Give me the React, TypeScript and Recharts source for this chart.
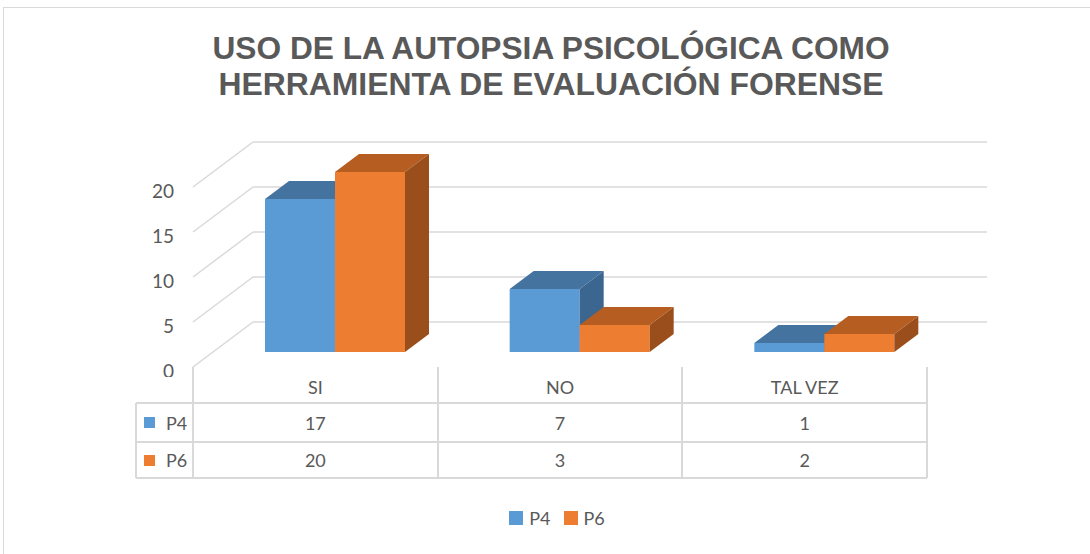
import React from "react";
import { BarChart, Bar, XAxis, YAxis, CartesianGrid } from "recharts";

const categories = ["SI", "NO", "TAL VEZ"];
const p4 = [17, 7, 1];
const p6 = [20, 3, 2];
const yTicks = [0, 5, 10, 15, 20];
const seriesNames = ["P4", "P6"];
const titleLines = ["USO DE LA AUTOPSIA PSICOLÓGICA COMO", "HERRAMIENTA DE EVALUACIÓN FORENSE"];

const data = categories.map((c, i) => ({ cat: c, P4: p4[i], P6: p6[i] }));

const W = 1090;
const H = 554;
const PLOT_L = 213;
const PLOT_R = 947;
const PLOT_T = 172;
const PLOT_B = 352;
const Y_W = 60;
// bar depth and the front / back planes of the fake 3d box
const DX = 24;
const DY = 18;
const FRONT = { dx: -20, dy: 15 };
const BACK = { dx: 40, dy: -30 };
const GRID = "#d9d9d9";
const TEXT = "#595959";
const FONT = "Lato, 'Open Sans', sans-serif";

const COLORS: Record<string, { front: string; top: string; side: string }> = {
  P4: { front: "#5b9bd5", top: "#45739f", side: "#3b6690" },
  P6: { front: "#ed7d31", top: "#b65e22", side: "#9a4e1c" },
};

function Box3D(props: any) {
  const { x, y, width: w, height: h, c } = props;
  if (w == null || h == null) return null;
  const top = `${x},${y} ${x + DX},${y - DY} ${x + w + DX},${y - DY} ${x + w},${y}`;
  const side = `${x + w},${y} ${x + w + DX},${y - DY} ${x + w + DX},${y + h - DY} ${x + w},${y + h}`;
  return (
    <g>
      <rect x={x} y={y} width={w} height={h} fill={c.front} />
      <polygon points={top} fill={c.top} />
      <polygon points={side} fill={c.side} />
    </g>
  );
}

const gridLine = (p: any) => {
  const { x1, y1, x2 } = p;
  return (
    <g key={p.key ?? `g-${y1}`}>
      <line x1={x1 + FRONT.dx} y1={y1 + FRONT.dy} x2={x1 + BACK.dx} y2={y1 + BACK.dy} stroke={GRID} strokeWidth={1.5} />
      <line x1={x1 + BACK.dx} y1={y1 + BACK.dy} x2={x2 + BACK.dx} y2={y1 + BACK.dy} stroke={GRID} strokeWidth={1.5} />
    </g>
  );
};

const YTick = (p: any) => (
  <text
    x={PLOT_L + FRONT.dx - 19}
    y={p.y + FRONT.dy + 3}
    textAnchor="end"
    dominantBaseline="central"
    fill={TEXT}
    fontSize={19}
    fontFamily={FONT}
  >
    {p.payload.value}
  </text>
);

function DataTable() {
  const left = 136;
  const x0 = PLOT_L + FRONT.dx;
  const colW = (PLOT_R - PLOT_L) / categories.length;
  const rows = [367, 403, 442, 478];
  const right = x0 + colW * categories.length;
  const line = (s: React.CSSProperties, k: string) => (
    <div key={k} style={{ position: "absolute", background: GRID, ...s }} />
  );
  const cell = (x: number, y: number, w: number, h: number, txt: React.ReactNode, k: string) => (
    <div
      key={k}
      style={{
        position: "absolute",
        left: x,
        top: y,
        width: w,
        height: h,
        display: "flex",
        alignItems: "center",
        justifyContent: "center",
        color: TEXT,
        fontSize: 18,
        fontFamily: FONT,
      }}
    >
      {txt}
    </div>
  );
  const series = [
    { name: "P4", vals: p4 },
    { name: "P6", vals: p6 },
  ];
  const els: React.ReactNode[] = [];
  // the header row hides the lower half of the "0" tick
  els.push(<div key="mask" style={{ position: "absolute", left: left, top: 377, width: x0 - left - 2, height: 25, background: "#fff" }} />);
  categories.forEach((c, i) => els.push(cell(x0 + i * colW, rows[0] + 2, colW, rows[1] - rows[0], c, `h${i}`)));
  series.forEach((s, r) => {
    const y = rows[r + 1];
    const h = rows[r + 2] - y;
    els.push(
      <div
        key={`lab${r}`}
        style={{ position: "absolute", left: left + 8, top: y, height: h, display: "flex", alignItems: "center", color: TEXT, fontSize: 18, fontFamily: FONT }}
      >
        <span style={{ width: 11, height: 11, background: COLORS[s.name].front, display: "inline-block", marginRight: 11 }} />
        {s.name}
      </div>
    );
    s.vals.forEach((v, i) => els.push(cell(x0 + i * colW, y, colW, h, v, `v${r}${i}`)));
  });
  rows.slice(1).forEach((y, i) => els.push(line({ left, top: y - 1, width: right - left, height: 2 }, `hl${i}`)));
  els.push(line({ left: left - 1, top: rows[1], width: 2, height: rows[3] - rows[1] }, "vl0"));
  for (let i = 0; i <= categories.length; i++) {
    els.push(line({ left: x0 + i * colW - 1, top: rows[0], width: 2, height: rows[3] - rows[0] }, `vl${i + 1}`));
  }
  return <>{els}</>;
}

function ChartLegend() {
  return (
    <div
      style={{
        position: "absolute",
        top: 507,
        left: 24,
        width: 1066,
        display: "flex",
        justifyContent: "center",
        gap: 13,
        fontFamily: FONT,
        fontSize: 18,
        color: TEXT,
      }}
    >
      {seriesNames.map((n) => (
        <div key={n} style={{ display: "flex", alignItems: "center" }}>
          <span style={{ width: 14, height: 14, background: COLORS[n].front, display: "inline-block", marginRight: 6 }} />
          {n}
        </div>
      ))}
    </div>
  );
}

export default function App() {
  return (
    <div style={{ position: "absolute", left: 0, top: 0, width: W, height: H, background: "#fff", overflow: "hidden" }}>
      <div style={{ position: "absolute", left: 3, top: 7, width: W + 20, height: H + 20, border: `1px solid ${GRID}` }} />
      <svg style={{ position: "absolute", left: 0, top: 0 }} width={W} height={110}>
        {titleLines.map((t, i) => (
          <text
            key={i}
            x={551}
            y={59 + i * 36}
            textAnchor="middle"
            fontFamily="'Liberation Sans Narrow', 'Liberation Sans', Arial, sans-serif"
            fontWeight="bold"
            fontSize={32}
            fill={TEXT}
            textLength={i === 0 ? 677 : 665}
            lengthAdjust="spacingAndGlyphs"
          >
            {t}
          </text>
        ))}
      </svg>
      <div style={{ position: "absolute", left: 0, top: 0 }}>
        <BarChart
          width={W}
          height={H}
          data={data}
          margin={{ top: PLOT_T, right: W - PLOT_R, bottom: H - PLOT_B, left: PLOT_L - Y_W }}
          barSize={70}
          barGap={0}
        >
          <CartesianGrid vertical={false} horizontal={gridLine} />
          <XAxis dataKey="cat" hide />
          <YAxis width={Y_W} domain={[0, 20]} ticks={yTicks} axisLine={false} tickLine={false} tick={YTick} />
          {seriesNames.map((n) => (
            <Bar
              key={n}
              dataKey={n}
              name={n}
              fill={COLORS[n].front}
              isAnimationActive={false}
              shape={(p: any) => <Box3D {...p} c={COLORS[n]} />}
            />
          ))}
        </BarChart>
      </div>
      <ChartLegend />
      <DataTable />
    </div>
  );
}
